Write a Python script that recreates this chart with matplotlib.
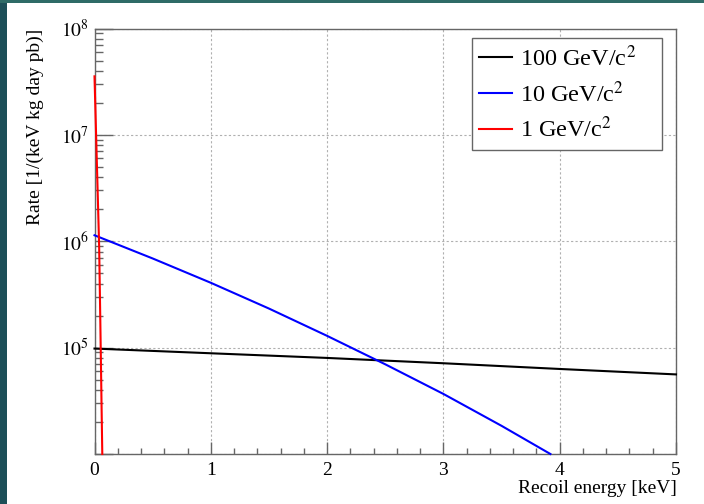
import numpy as np
import matplotlib
matplotlib.use("Agg")
import matplotlib.pyplot as plt
from matplotlib.patches import Rectangle
from matplotlib.ticker import FixedLocator, LogLocator, FuncFormatter, NullFormatter

# данные (энергия отдачи в кэВ, скорость счёта)
E_100 = [0.0, 1.0, 2.0, 3.0, 4.0, 5.0]
R_100 = [9.8e4, 8.85e4, 8.0e4, 7.13e4, 6.3e4, 5.6e4]

E_10 = [0.0, 0.5, 1.0, 1.5, 2.0, 2.5, 3.0, 3.5, 3.92]
R_10 = [1.138e6, 6.89e5, 4.07e5, 2.33e5, 1.29e5, 6.97e4, 3.67e4, 1.84e4, 1.0e4]

E_1 = [0.0, 0.01, 0.02, 0.03, 0.04, 0.05, 0.06, 0.067]
R_1 = [3.55e7, 1.41e7, 5.6e6, 2.24e6, 8.9e5, 1.78e5, 3.2e4, 1.0e4]

LABELS = ["100 GeV/c$^2$", "10 GeV/c$^2$", "1 GeV/c$^2$"]
COLORS = ["black", "#0000ff", "#ff0000"]

plt.rcParams["font.family"] = ["Liberation Serif", "DejaVu Serif"]
plt.rcParams["mathtext.fontset"] = "stix"

fig = plt.figure(figsize=(7.04, 5.04), dpi=100)
fig.patch.set_facecolor("#1d4f58")
# полоса сверху и белая подложка как на слайде
fig.patches.append(Rectangle((0, 1 - 3 / 504), 1, 3 / 504, transform=fig.transFigure,
                             facecolor="#2f6b67", edgecolor="none", zorder=-20))
fig.patches.append(Rectangle((7 / 704, 0), 1, 1 - 3 / 504, transform=fig.transFigure,
                             facecolor="white", edgecolor="none", zorder=-10))

ax = fig.add_axes([94.5 / 704, 1 - 454 / 504, (676 - 94.5) / 704, (454 - 28.5) / 504])

for (x, y), lab, col in zip([(E_100, R_100), (E_10, R_10), (E_1, R_1)], LABELS, COLORS):
    ax.plot(x, y, color=col, lw=1.5, label=lab, zorder=3, clip_on=False)

ax.set_yscale("log")
ax.set_xlim(0, 5)
ax.set_ylim(1e4, 1e8)

ax.xaxis.set_major_locator(FixedLocator([0, 1, 2, 3, 4, 5]))
ax.xaxis.set_minor_locator(FixedLocator(np.arange(0, 5.01, 0.2)))
ax.yaxis.set_major_locator(LogLocator(base=10, numticks=10))
ax.yaxis.set_minor_locator(LogLocator(base=10, subs=np.arange(2, 10), numticks=20))
ax.yaxis.set_major_formatter(FuncFormatter(
    lambda v, p: "" if v < 5e4 else r"$10^{%d}$" % round(np.log10(v))))
ax.yaxis.set_minor_formatter(NullFormatter())

frame_col = "#666666"
for s in ax.spines.values():
    s.set_color(frame_col)
    s.set_linewidth(1.0)

ax.tick_params(axis="both", which="both", direction="in", colors=frame_col,
               labelcolor="black", labelsize=14, width=1.0)
ax.tick_params(axis="x", which="major", length=8.6, pad=6)
ax.tick_params(axis="x", which="minor", length=4.3)
ax.tick_params(axis="y", which="major", length=13, pad=4)
ax.tick_params(axis="y", which="minor", length=5.8)

ax.grid(True, which="major", linestyle=(0, (2, 2)), color="#b0b0b0", lw=0.8)

fig.text(35 / 704, 1 - 29 / 504, "Rate [1/(keV kg day pb)]", rotation=90,
         ha="center", va="top", fontsize=14)
fig.text(677 / 704, 1 - 497 / 504, "Recoil energy [keV]", ha="right",
         va="bottom", fontsize=14)

# легенда фиксированного размера, как в ROOT
leg = ax.legend(loc="upper left", mode="expand",
                bbox_to_anchor=(472 / 704, 1 - 150 / 504, 190 / 704, 112 / 504),
                bbox_transform=fig.transFigure, fontsize=17.5, frameon=True,
                fancybox=False, framealpha=1, edgecolor=frame_col,
                handlelength=1.36, handletextpad=0.33, borderpad=0.3,
                labelspacing=0.42, borderaxespad=0)
leg.get_frame().set_linewidth(1.0)
for ln in leg.get_lines():
    ln.set_linewidth(1.5)

fig.savefig("out.png", dpi=100, facecolor=fig.get_facecolor())
